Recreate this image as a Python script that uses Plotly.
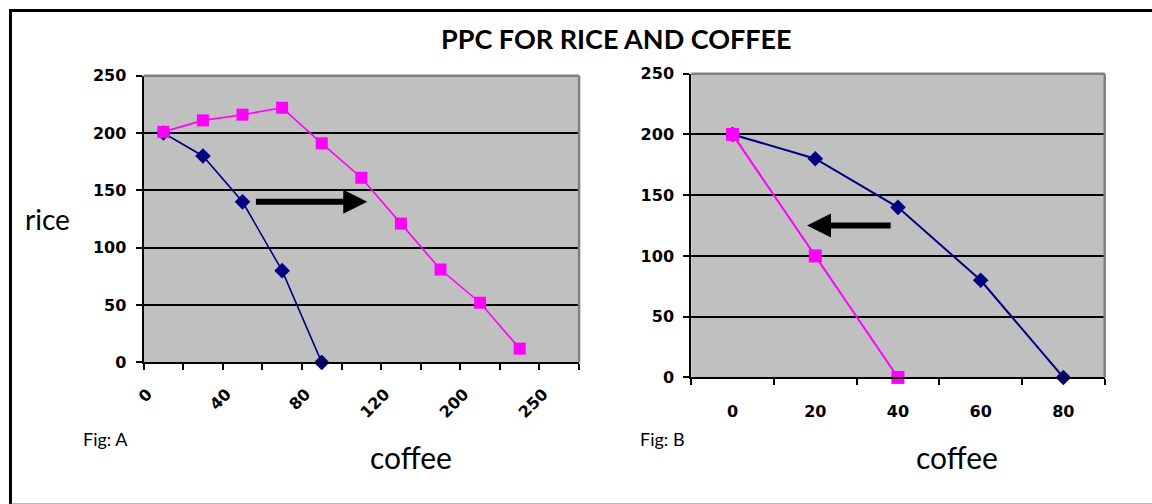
import plotly.graph_objects as go

W, H = 1152, 520

# The photographed page appears mapped as
#   x_shot = 0.991*x_page + 11.6,  y_shot = 0.961*y_page + 8.5
# so target pixel positions from the reference are converted back to page pixels.
XS, XO = 0.991, 11.6
YS, YO = 0.961, 8.5

# ---------------- data ----------------
# Fig A (category axis, every other label shown)
a_labels = ["0", "", "40", "", "80", "", "120", "", "200", "", "250"]
a_blue_rice = [200, 180, 140, 80, 0]
a_pink_rice = [201, 211, 216, 222, 191, 161, 121, 81, 52, 12]

# Fig B
b_labels = ["0", "20", "40", "60", "80"]
b_blue_rice = [200, 180, 140, 80, 0]
b_pink_rice = [200, 100, 0]

y_ticks = [0, 50, 100, 150, 200, 250]

NAVY = "#000080"
PINK = "#FF00FF"
TICKFONT = dict(family="DejaVu Sans", size=16, color="black", weight="bold")
TEXTFONT = "Lato"

def px(x):
    xp = max((x - XO) / XS, 1.5)
    return xp / W

def py(y):
    yp = max((y - YO) / YS, 0)
    return 1 - yp / H

fig = go.Figure()

# Fig A traces
fig.add_trace(go.Scatter(
    x=list(range(len(a_blue_rice))), y=a_blue_rice, mode="lines+markers",
    line=dict(color=NAVY, width=1.6),
    marker=dict(symbol="diamond", size=12, color=NAVY),
    xaxis="x", yaxis="y", showlegend=False, cliponaxis=False))
fig.add_trace(go.Scatter(
    x=list(range(len(a_pink_rice))), y=a_pink_rice, mode="lines+markers",
    line=dict(color=PINK, width=1.6),
    marker=dict(symbol="square", size=12, color=PINK),
    xaxis="x", yaxis="y", showlegend=False, cliponaxis=False))

# Fig B traces
fig.add_trace(go.Scatter(
    x=list(range(len(b_blue_rice))), y=b_blue_rice, mode="lines+markers",
    line=dict(color=NAVY, width=2),
    marker=dict(symbol="diamond", size=12, color=NAVY),
    xaxis="x2", yaxis="y2", showlegend=False, cliponaxis=False))
fig.add_trace(go.Scatter(
    x=list(range(len(b_pink_rice))), y=b_pink_rice, mode="lines+markers",
    line=dict(color=PINK, width=2),
    marker=dict(symbol="square", size=13, color=PINK),
    xaxis="x2", yaxis="y2", showlegend=False, cliponaxis=False))

def yaxis_cfg(dom, anchor):
    return dict(domain=dom, anchor=anchor, range=[0, 250], tickvals=y_ticks,
                showgrid=True, gridcolor="black", gridwidth=1.6,
                showline=True, linecolor="black", linewidth=2,
                ticks="outside", ticklen=6, tickcolor="black", tickwidth=2,
                ticklabelstandoff=6, tickfont=TICKFONT, zeroline=False,
                fixedrange=True)

def xaxis_cfg(dom, anchor, n, labels, angle, standoff, shift):
    return dict(domain=dom, anchor=anchor, range=[-0.5, n - 0.5],
                tickmode="array", tickvals=list(range(n)), ticktext=labels,
                ticks="", tickangle=angle, showgrid=False, zeroline=False,
                showline=True, linecolor="black", linewidth=2,
                ticklabelstandoff=standoff, ticklabelshift=shift, tickfont=TICKFONT,
                minor=dict(tickmode="linear", tick0=-0.5, dtick=1, ticks="outside",
                           ticklen=6, tickcolor="black", tickwidth=2, showgrid=False),
                fixedrange=True)

fig.update_layout(
    width=W, height=H,
    margin=dict(l=0, r=0, t=0, b=0),
    paper_bgcolor="white", plot_bgcolor="#C0C0C0",
    xaxis=xaxis_cfg([px(146), px(581)], "y", len(a_labels), a_labels, -45, 14, -16),
    yaxis=yaxis_cfg([py(361), py(75)], "x"),
    xaxis2=xaxis_cfg([px(693), px(1106)], "y2", len(b_labels), b_labels, 0, 18, 0),
    yaxis2=yaxis_cfg([py(376), py(73)], "x2"),
)

# plot-area borders (gray top/right)
for xr, yr in (("x", "y"), ("x2", "y2")):
    fig.add_shape(type="line", xref=xr + " domain", yref=yr + " domain",
                  x0=0, x1=1, y0=1, y1=1, line=dict(color="#808080", width=2.5),
                  layer="above")
    fig.add_shape(type="line", xref=xr + " domain", yref=yr + " domain",
                  x0=1, x1=1, y0=0, y1=1, line=dict(color="#808080", width=2.5),
                  layer="above")

# outer frame
fig.add_shape(type="line", xref="paper", yref="paper", x0=px(0), x1=px(0),
              y0=py(0), y1=py(504), line=dict(color="black", width=3))
fig.add_shape(type="line", xref="paper", yref="paper", x0=px(0), x1=1,
              y0=1 - 1.5 / H, y1=1 - 1.5 / H, line=dict(color="black", width=3))
fig.add_shape(type="line", xref="paper", yref="paper", x0=px(0), x1=1,
              y0=py(502.5), y1=py(502.5), line=dict(color="#707070", width=1.5))

# arrows (shift direction)
fig.add_annotation(x=5.15, y=140, ax=2.3, ay=140, xref="x", yref="y", axref="x", ayref="y",
                   text="", showarrow=True, arrowhead=2, arrowsize=0.8, arrowwidth=6,
                   arrowcolor="black")
fig.add_annotation(x=0.9, y=125, ax=1.93, ay=125, xref="x2", yref="y2", axref="x2", ayref="y2",
                   text="", showarrow=True, arrowhead=2, arrowsize=0.8, arrowwidth=6,
                   arrowcolor="black")

# texts
def label(text, x, y, size, bold=False):
    fig.add_annotation(text=text, x=px(x), y=py(y), xref="paper", yref="paper",
                       xanchor="center", yanchor="middle", showarrow=False,
                       font=dict(family=TEXTFONT, size=size, color="black",
                                 weight="bold" if bold else "normal"))

label("PPC FOR RICE AND COFFEE", 618, 38, 27, bold=True)
label("rice", 50, 218, 28)
label("coffee", 413, 455, 30)
label("coffee", 958, 455, 30)
label("Fig: A", 108, 437, 18)
label("Fig: B", 664, 437, 18)

fig.write_html(
    "out.html",
    config={"displayModeBar": False},
    post_script=(
        "document.documentElement.style.margin='0';"
        "document.documentElement.style.overflow='hidden';"
        "document.body.style.margin='0';"
        "document.body.style.overflow='hidden';"
    ),
)
